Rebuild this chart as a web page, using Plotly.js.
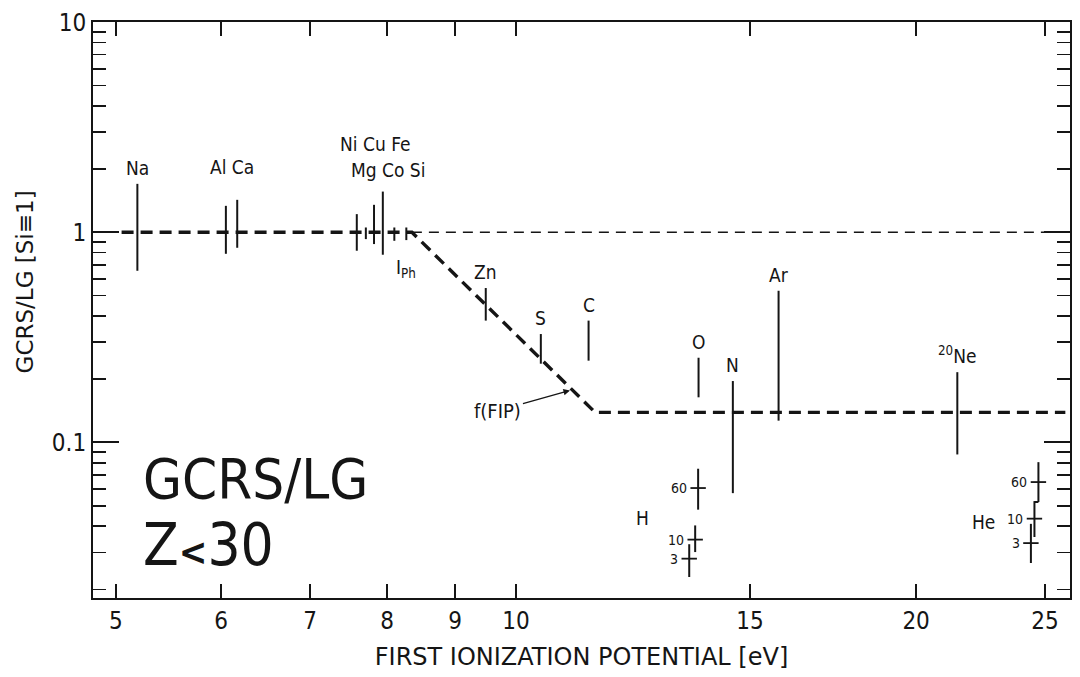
<!DOCTYPE html>
<html>
<head>
<meta charset="utf-8">
<script src="https://cdn.plot.ly/plotly-3.0.1.min.js"></script>
<style>
  html, body { margin: 0; padding: 0; background: #ffffff; }
  #chart { width: 1080px; height: 677px; }
</style>
</head>
<body>
<div id="chart"></div>
<script>
// Galactic cosmic ray source / local galactic abundance ratio vs first ionization potential

// Individual elements: FIP [eV] and the range of the ratio (Si = 1)
const elemFip = [5.19, 6.05, 6.17, 7.59, 7.71, 7.82, 7.94, 8.10, 8.27, 9.49, 10.44, 11.34, 13.72, 14.56, 15.76, 21.48];
const elemHi  = [1.70, 1.336, 1.427, 1.22, 1.054, 1.351, 1.562, 1.054, 1.054, 0.543, 0.328, 0.380, 0.253, 0.196, 0.527, 0.216];
const elemLo  = [0.656, 0.790, 0.844, 0.817, 0.928, 0.879, 0.782, 0.911, 0.918, 0.380, 0.237, 0.245, 0.164, 0.0574, 0.127, 0.0877];

// Elements labelled one by one (index into the arrays above)
const singleLabels = [
  {i: 0, text: 'Na'}, {i: 9, text: 'Zn'}, {i: 10, text: 'S'}, {i: 11, text: 'C'},
  {i: 12, text: 'O'}, {i: 13, text: 'N'}, {i: 14, text: 'Ar'}, {i: 15, text: '<sup>20</sup>Ne'}
];

// Hydrogen and helium at three energies
const energies = ['60', '10', '3'];
const hFip = [13.71, 13.64, 13.50];
const hMid = [0.0607, 0.0345, 0.0280];
const hHi  = [0.0750, 0.0403, 0.0328];
const hLo  = [0.0479, 0.0301, 0.0229];
const heFip = [24.72, 24.55, 24.40];
const heMid = [0.0648, 0.0434, 0.0332];
const heHi  = [0.0806, 0.0526, 0.0410];
const heLo  = [0.0521, 0.0355, 0.0267];

// f(FIP) step function and the Si = 1 level
const modelFip = [5.05, 8.35, 11.47, 25.9];
const modelVal = [1, 1, 0.139, 0.139];
const unityFip = [8.35, 26.0];
const unityVal = [1, 1];

// Axis ticks
const xTicks = [5, 6, 7, 8, 9, 10, 15, 20, 25];
const yTicks = [0.1, 1, 10];
const yTickText = ['0.1', '1', '10'];
const yMinor = [0.02, 0.03, 0.04, 0.05, 0.06, 0.07, 0.08, 0.09,
                0.2, 0.3, 0.4, 0.5, 0.6, 0.7, 0.8, 0.9,
                2, 3, 4, 5, 6, 7, 8, 9];

const INK = '#151515';
const COND = 'DejaVu Sans Condensed, DejaVu Sans, sans-serif';
const SANS = 'DejaVu Sans, sans-serif';

function segments(xs, lo, hi) {
  const x = [], y = [];
  xs.forEach((v, k) => { x.push(v, v, null); y.push(lo[k], hi[k], null); });
  return {x, y};
}

const elemSeg = segments(elemFip, elemLo, elemHi);
const hSeg = segments(hFip, hLo, hHi);
const heSeg = segments(heFip, heLo, heHi);
// short step joining the 60 and 10 helium bars
heSeg.x.push(heFip[0], heFip[1], null);
heSeg.y.push(heLo[0], heLo[0], null);

const traces = [
  { x: unityFip, y: unityVal, mode: 'lines', line: {color: INK, width: 1.5, dash: '10px,7px'}, hoverinfo: 'skip' },
  { x: modelFip, y: modelVal, mode: 'lines', line: {color: INK, width: 3.4, dash: '12px,7px'}, hoverinfo: 'skip' },
  { x: elemSeg.x, y: elemSeg.y, mode: 'lines', line: {color: INK, width: 2}, hoverinfo: 'skip' },
  { x: hSeg.x, y: hSeg.y, mode: 'lines', line: {color: INK, width: 2}, hoverinfo: 'skip' },
  { x: heSeg.x, y: heSeg.y, mode: 'lines', line: {color: INK, width: 2}, hoverinfo: 'skip' },
  { x: hFip.concat(heFip), y: hMid.concat(heMid), mode: 'markers',
    marker: {symbol: 'line-ew', size: 11, color: INK, line: {color: INK, width: 1.8}}, hoverinfo: 'skip' }
];

const ann = [];
singleLabels.forEach(l => {
  ann.push({ x: Math.log10(elemFip[l.i]), y: Math.log10(elemHi[l.i]), xref: 'x', yref: 'y',
    text: l.text, showarrow: false, xanchor: 'center', yanchor: 'bottom', yshift: 3,
    font: {family: COND, size: 19, color: INK} });
});
// grouped element names
const groupLabels = [
  {x: 6.115, y: 2.05, text: 'Al Ca'},
  {x: 7.83, y: 2.63, text: 'Ni Cu Fe'},
  {x: 8.01, y: 1.98, text: 'Mg Co Si'}
];
groupLabels.forEach(g => {
  ann.push({ x: Math.log10(g.x), y: Math.log10(g.y), xref: 'x', yref: 'y', text: g.text,
    showarrow: false, xanchor: 'center', yanchor: 'middle',
    font: {family: COND, size: 19, color: INK} });
});
ann.push({ x: Math.log10(8.27), y: Math.log10(0.675), xref: 'x', yref: 'y', text: 'I<sub>Ph</sub>',
  showarrow: false, font: {family: COND, size: 19, color: INK} });

// energy labels for H and He
[[hFip, hMid], [heFip, heMid]].forEach(([fx, fy]) => {
  fx.forEach((v, k) => {
    ann.push({ x: Math.log10(v), y: Math.log10(fy[k]), xref: 'x', yref: 'y', text: energies[k],
      showarrow: false, xanchor: 'right', yanchor: 'middle', xshift: -9,
      font: {family: COND, size: 14, color: INK} });
  });
});
ann.push({ x: Math.log10(12.46), y: Math.log10(0.0435), xref: 'x', yref: 'y', text: 'H',
  showarrow: false, font: {family: COND, size: 19, color: INK} });
ann.push({ x: Math.log10(22.46), y: Math.log10(0.0417), xref: 'x', yref: 'y', text: 'He',
  showarrow: false, font: {family: COND, size: 19, color: INK} });

// f(FIP) pointer
ann.push({ x: Math.log10(10.98), y: Math.log10(0.1767), xref: 'x', yref: 'y',
  text: 'f(FIP)', showarrow: true, arrowhead: 2, arrowsize: 1, arrowwidth: 1.3, arrowcolor: INK,
  axref: 'pixel', ayref: 'pixel', ax: -72, ay: 20, standoff: 0,
  font: {family: COND, size: 20, color: INK} });

// big panel title
ann.push({ xref: 'paper', yref: 'paper', x: 0.049, y: 0.208, xanchor: 'left', yanchor: 'middle',
  text: 'GCRS/LG', showarrow: false, font: {family: COND, size: 56, color: INK} });
ann.push({ xref: 'paper', yref: 'paper', x: 0.049, y: 0.092, xanchor: 'left', yanchor: 'middle',
  text: 'Z<b><span style="font-size:38px">&lt;</span></b>30', showarrow: false,
  font: {family: COND, size: 58, color: INK} });

// y axis title
ann.push({ xref: 'paper', yref: 'paper', x: -0.07, y: 0.549, xanchor: 'center', yanchor: 'middle',
  text: 'GCRS/LG [Si≡1]', textangle: -90, showarrow: false,
  font: {family: SANS, size: 23, color: INK} });

const layout = {
  width: 1080, height: 677,
  margin: {l: 93, r: 10, t: 22, b: 79},
  paper_bgcolor: '#ffffff', plot_bgcolor: '#ffffff',
  showlegend: false,
  xaxis: {
    type: 'log', range: [Math.log10(4.806), Math.log10(26.11)],
    tickmode: 'array', tickvals: xTicks, ticktext: xTicks.map(String),
    ticks: 'inside', ticklen: 14, tickwidth: 2, tickcolor: INK,
    showline: true, linewidth: 2, linecolor: INK, mirror: 'ticks',
    showgrid: false, zeroline: false,
    tickfont: {family: COND, size: 24, color: INK},
    title: {text: 'FIRST IONIZATION POTENTIAL [eV]', standoff: 14, font: {family: SANS, size: 24, color: INK}}
  },
  yaxis: {
    type: 'log', range: [-1.74, 1.0005],
    tickmode: 'array', tickvals: yTicks, ticktext: yTickText,
    ticks: 'inside', ticklen: 26, tickwidth: 2, tickcolor: INK,
    minor: {tickmode: 'array', tickvals: yMinor, ticks: 'inside', ticklen: 13, tickwidth: 1.6, tickcolor: INK, showgrid: false},
    showline: true, linewidth: 2, linecolor: INK, mirror: 'ticks',
    showgrid: false, zeroline: false,
    tickfont: {family: COND, size: 24, color: INK}
  },
  annotations: ann
};

Plotly.newPlot('chart', traces, layout, {displayModeBar: false, staticPlot: true});
</script>
</body>
</html>
